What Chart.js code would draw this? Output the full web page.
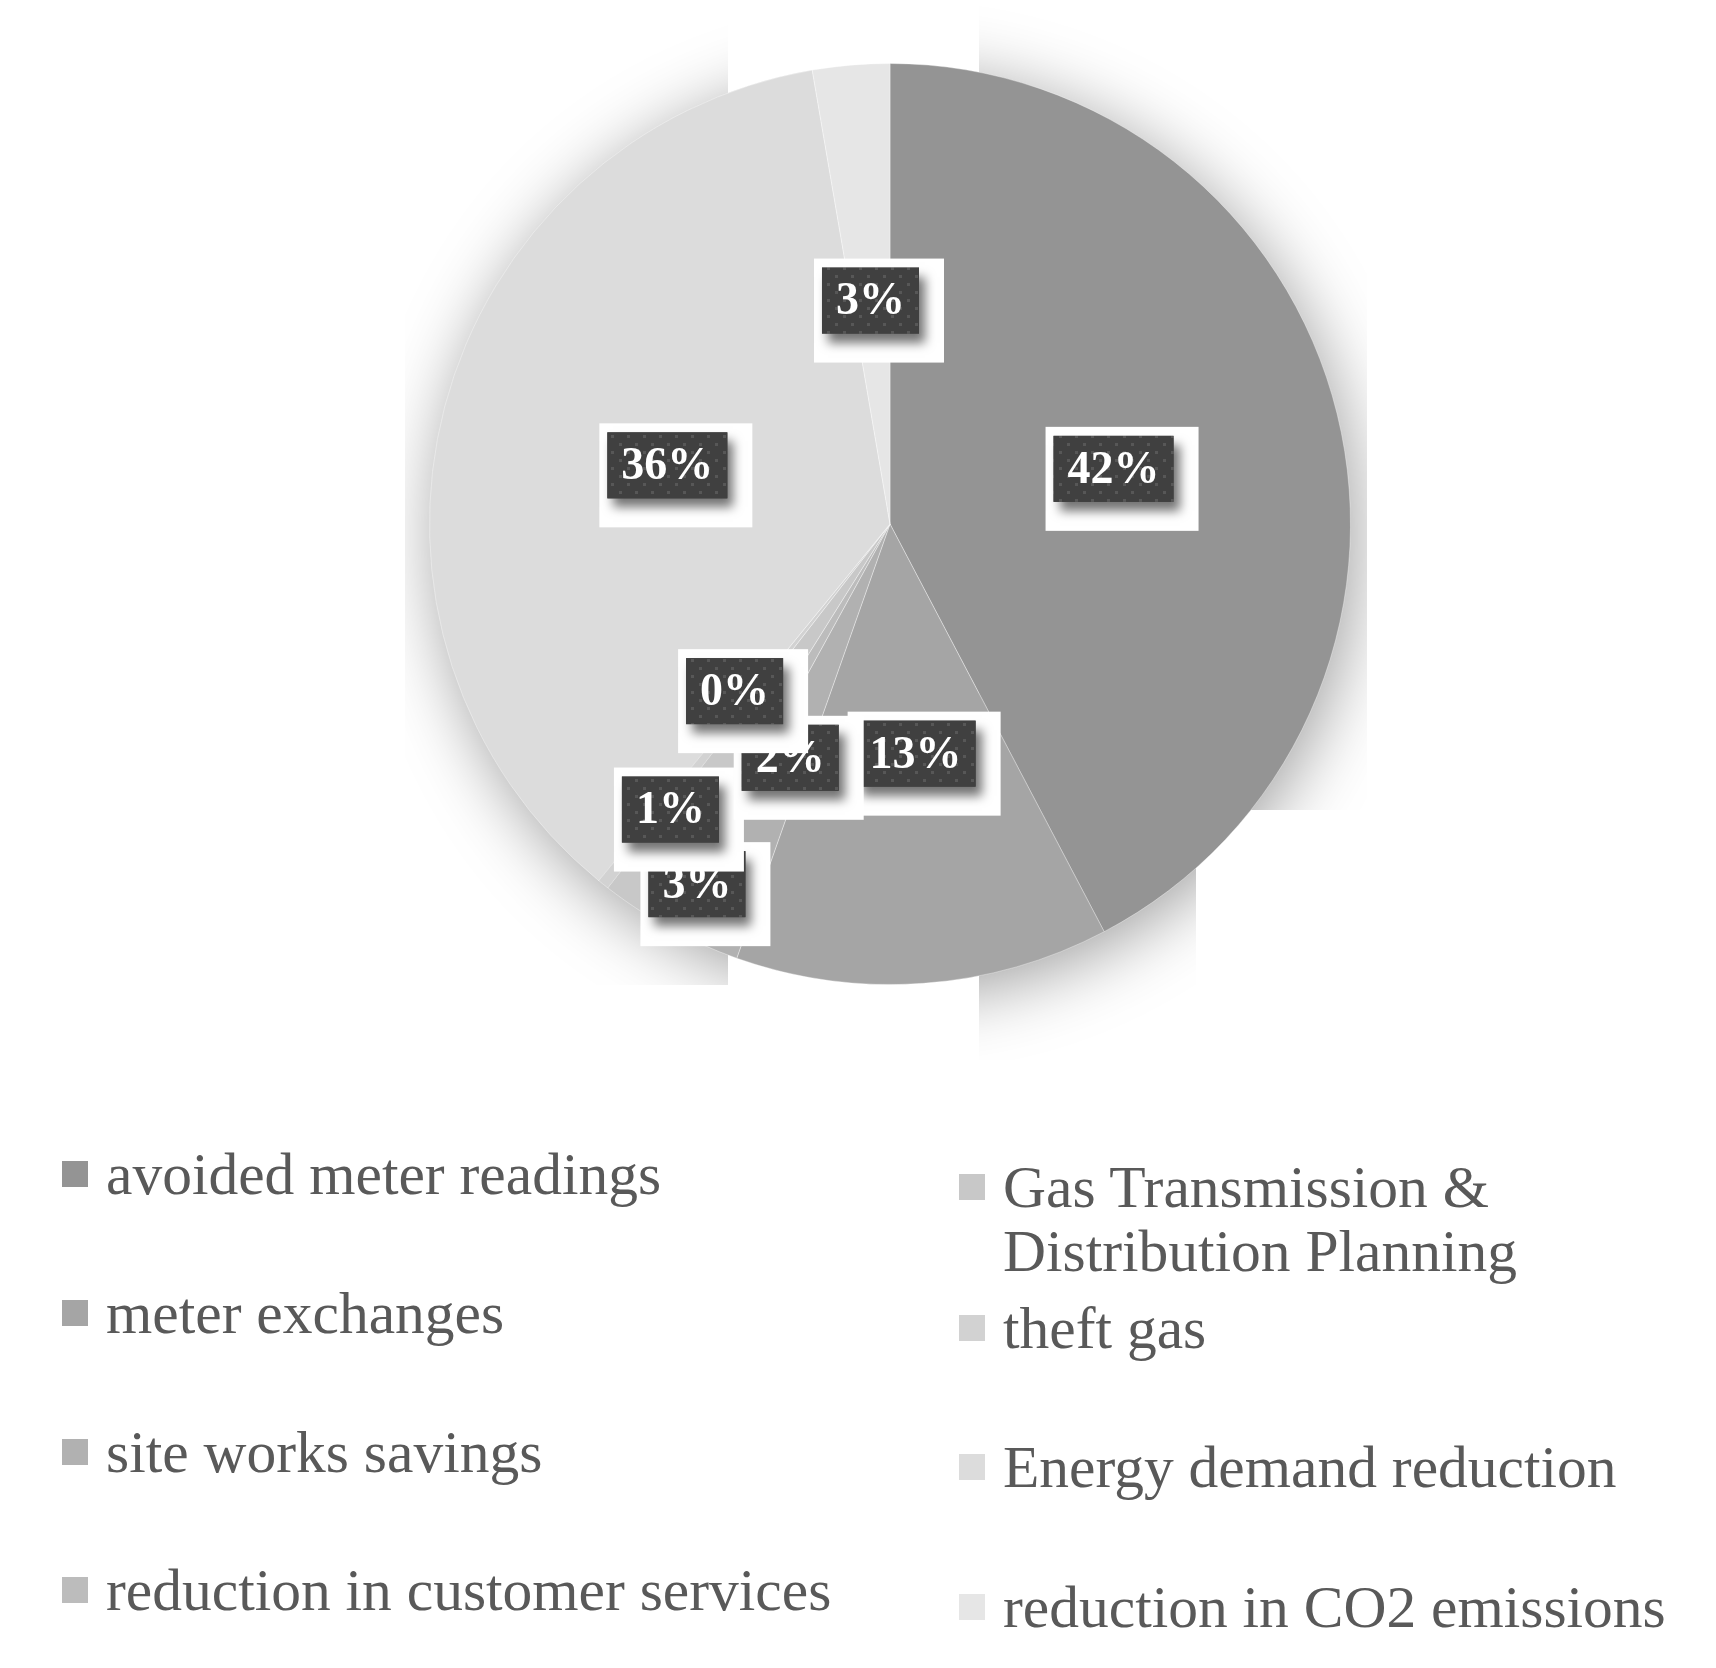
<!DOCTYPE html>
<html>
<head>
<meta charset="utf-8">
<script src="https://cdn.jsdelivr.net/npm/chart.js@4"></script>
<style>
    body { margin: 0; background: #ffffff; }
    #wrap { position: relative; width: 1716px; height: 1668px; overflow: hidden; }
    #chartBox { position: absolute; left: 0; top: 0; width: 1716px; height: 1060px; }
    .legend-item { position: absolute; font-family: "Liberation Serif", "Times New Roman", serif; font-size: 59.5px; line-height: 64px; color: #595959; white-space: nowrap; }
    .legend-item .swatch { position: absolute; width: 26px; height: 26px; left: -44px; top: 19px; }
</style>
</head>
<body>
<div id="wrap">
    <div id="chartBox"><canvas id="pieChart"></canvas></div>
    <div id="legend"></div>
</div>
<script>
// Chart data
const categories = [
    'avoided meter readings',
    'meter exchanges',
    'site works savings',
    'reduction in customer services',
    ['Gas Transmission &', 'Distribution Planning'],
    'theft gas',
    'Energy demand reduction',
    'reduction in CO2 emissions'
];
const shares = [42.3, 13.1, 2.6, 0.9, 1.6, 0.4, 36.4, 2.7];
const sliceColors = ['#949494', '#a5a5a5', '#b1b1b1', '#bcbcbc', '#c8c8c8', '#d2d2d2', '#dcdcdc', '#e6e6e6'];

// Label placement tweaks (Excel moved the crowded small labels around)
const labelNudge = [[0, 0], [9, 0], [-99, 150], [-103, 87], [32, 45], [-12, -13], [0, 0], [0, 6]];

// Legend layout: column-major, left column then right column
const legendSpots = [
    { x: 106, y: 1142 }, { x: 106, y: 1281 }, { x: 106, y: 1420 }, { x: 106, y: 1558 },
    { x: 1003, y: 1155 }, { x: 1003, y: 1296 }, { x: 1003, y: 1435 }, { x: 1003, y: 1575 }
];

// Where the pie's shadow shows (the original export clipped it in tiles)
const shadowTiles = [[405, 0, 323, 985], [979, 0, 388, 810], [979, 810, 217, 250]];

// Build the HTML legend
const legendDiv = document.getElementById('legend');
categories.forEach((cat, i) => {
    const item = document.createElement('div');
    item.className = 'legend-item';
    item.style.left = legendSpots[i].x + 'px';
    item.style.top = legendSpots[i].y + 'px';
    const text = Array.isArray(cat) ? cat.join('<br>') : cat;
    item.innerHTML = `<span class="swatch" style="background:${sliceColors[i]}"></span>${text}`;
    legendDiv.appendChild(item);
});

// Dotted fill used behind the percentage labels
function makeDotPattern(ctx) {
    const p = document.createElement('canvas');
    p.width = 16;
    p.height = 16;
    const pc = p.getContext('2d');
    pc.fillStyle = '#404040';
    pc.fillRect(0, 0, 16, 16);
    pc.fillStyle = '#575757';
    pc.fillRect(3, 3, 3, 3);
    pc.fillRect(11, 11, 3, 3);
    return ctx.createPattern(p, 'repeat');
}

// Soft shadow under the whole pie
const pieShadow = {
    id: 'pieShadow',
    beforeDatasetsDraw(chart) {
        const arc = chart.getDatasetMeta(0).data[0];
        if (!arc) return;
        const ctx = chart.ctx;
        ctx.save();
        ctx.beginPath();
        shadowTiles.forEach(t => ctx.rect(t[0], t[1], t[2], t[3]));
        ctx.clip();
        ctx.shadowColor = 'rgba(0, 0, 0, 0.38)';
        ctx.shadowBlur = 70;
        ctx.shadowOffsetX = 6;
        ctx.shadowOffsetY = 12;
        ctx.beginPath();
        ctx.arc(arc.x, arc.y, arc.outerRadius - 1, 0, Math.PI * 2);
        ctx.fillStyle = '#999999';
        ctx.fill();
        ctx.restore();
    }
};

// Percentage labels: white frame, dark dotted box, white bold text
const boxLabels = {
    id: 'boxLabels',
    afterDatasetsDraw(chart) {
        const ctx = chart.ctx;
        const meta = chart.getDatasetMeta(0);
        const values = chart.data.datasets[0].data;
        const total = values.reduce((a, b) => a + b, 0);
        const pattern = makeDotPattern(ctx);
        ctx.save();
        ctx.font = 'bold 46px "Liberation Serif", "Times New Roman", serif';
        meta.data.forEach((arc, i) => {
            const mid = (arc.startAngle + arc.endAngle) / 2;
            const r = arc.outerRadius * 0.5;
            const cx = arc.x + Math.cos(mid) * r + labelNudge[i][0];
            const cy = arc.y + Math.sin(mid) * r + labelNudge[i][1];
            const text = Math.round(values[i] / total * 100) + '%';
            const tw = ctx.measureText(text).width;
            const w = tw + 28;
            const h = 66;
            const bx = cx - w / 2;
            const by = cy - h / 2;

            ctx.fillStyle = '#ffffff';
            ctx.fillRect(bx - 8, by - 9, w + 33, h + 38);

            ctx.save();
            ctx.shadowColor = 'rgba(0, 0, 0, 0.55)';
            ctx.shadowBlur = 10;
            ctx.shadowOffsetX = 6;
            ctx.shadowOffsetY = 9;
            ctx.fillStyle = '#404040';
            ctx.fillRect(bx, by, w, h);
            ctx.restore();
            ctx.fillStyle = pattern;
            ctx.fillRect(bx, by, w, h);

            ctx.fillStyle = '#ffffff';
            ctx.textAlign = 'center';
            ctx.textBaseline = 'middle';
            ctx.fillText(text, cx, cy + 2);
        });
        ctx.restore();
    }
};

const pieChart = new Chart(document.getElementById('pieChart'), {
    type: 'pie',
    data: {
        labels: categories,
        datasets: [{
            data: shares,
            backgroundColor: sliceColors,
            borderColor: 'rgba(255, 255, 255, 0.35)',
            borderWidth: 1
        }]
    },
    options: {
        responsive: true,
        maintainAspectRatio: false,
        animation: false,
        layout: {
            padding: { top: 63, bottom: 75, left: 429, right: 365 }
        },
        plugins: {
            legend: { display: false },
            tooltip: { enabled: false }
        }
    },
    plugins: [pieShadow, boxLabels]
});
</script>
</body>
</html>
